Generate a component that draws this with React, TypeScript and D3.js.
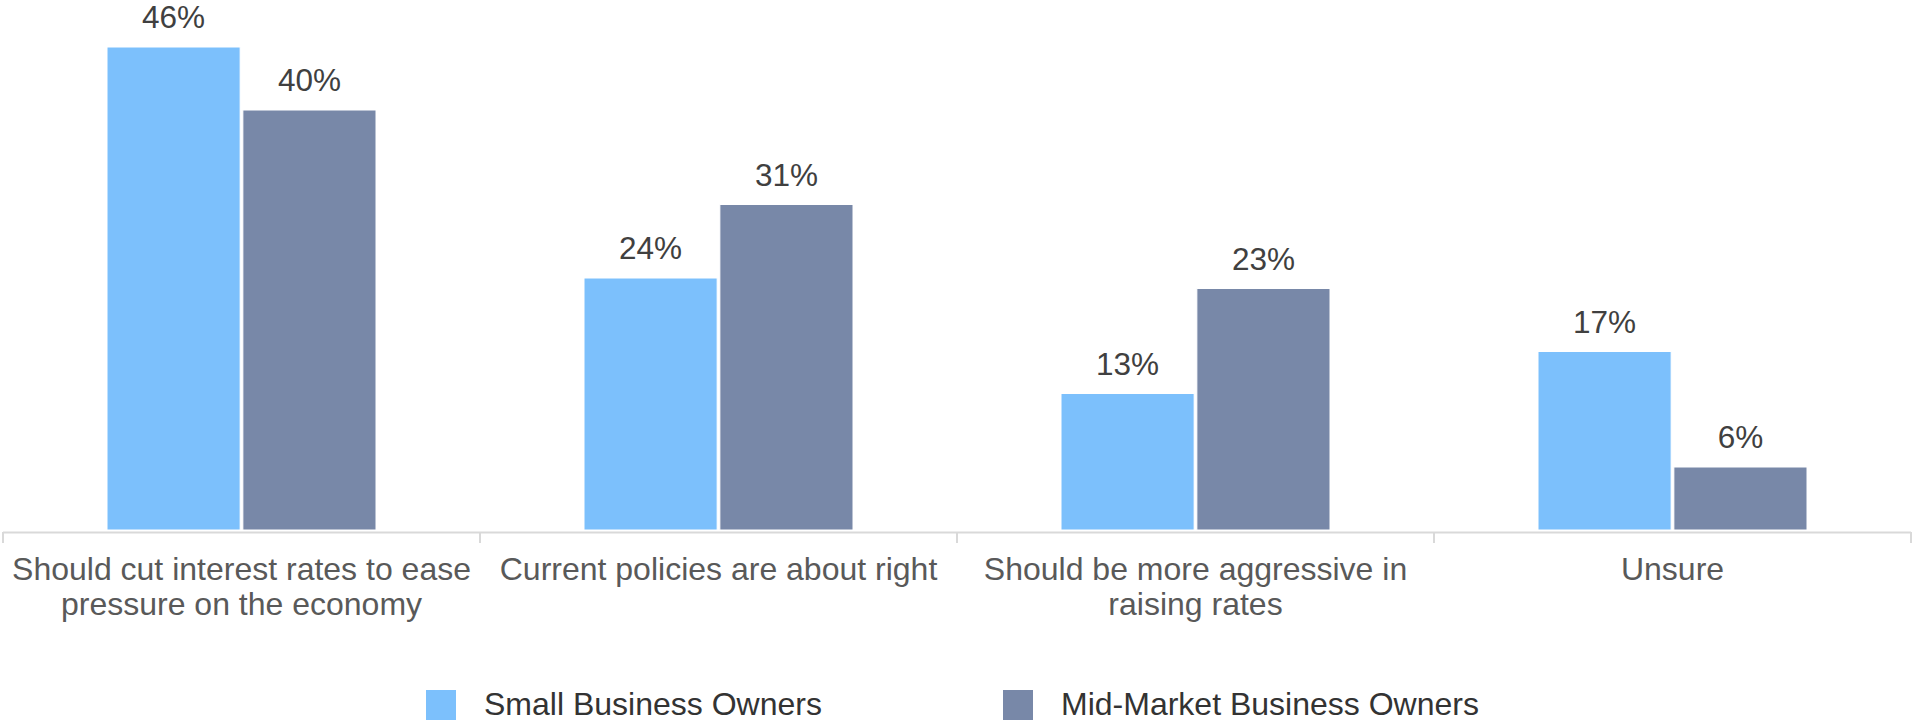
import React, { useEffect, useRef } from 'react';
import * as d3 from 'd3';

const categories = [
  'Should cut interest rates to ease pressure on the economy',
  'Current policies are about right',
  'Should be more aggressive in raising rates',
  'Unsure'
];
const seriesNames = ['Small Business Owners', 'Mid-Market Business Owners'];
const smallBusiness = [46, 24, 13, 17];
const midMarket = [40, 31, 23, 6];
const colors = ['#7CC0FC', '#7888A8'];

const W = 1913;
const H = 721;
const FONT = '"Liberation Sans", Arial, sans-serif';

const App = () => {
  const ref = useRef<SVGSVGElement>(null);

  useEffect(() => {
    const svg = d3.select(ref.current);
    svg.selectAll('*').remove();

    const x = d3.scaleBand<string>().domain(categories).range([3, 1911]).paddingInner(0).paddingOuter(0);
    const inner = d3
      .scaleBand<number>()
      .domain([0, 1])
      .range([104, x.bandwidth() - 104])
      .paddingInner(0.02);
    const y = d3.scaleLinear().domain([0, 50]).range([530, 5]);

    const series = [smallBusiness, midMarket];

    const groups = svg
      .selectAll('g.cat')
      .data(categories)
      .enter()
      .append('g')
      .attr('class', 'cat')
      .attr('transform', (d) => `translate(${x(d)},0)`);

    series.forEach((vals, si) => {
      groups
        .append('rect')
        .attr('x', inner(si)!)
        .attr('width', inner.bandwidth())
        .attr('y', (_, i) => y(vals[i]))
        .attr('height', (_, i) => y(0) - y(vals[i]))
        .attr('fill', colors[si])
        .attr('stroke', '#ffffff')
        .attr('stroke-width', 1);

      groups
        .append('text')
        .attr('x', inner(si)! + inner.bandwidth() / 2)
        .attr('y', (_, i) => y(vals[i]) - 19)
        .attr('text-anchor', 'middle')
        .attr('font-family', FONT)
        .attr('font-size', 31.5)
        .attr('fill', '#404040')
        .text((_, i) => `${vals[i]}%`);
    });

    // axis line and ticks
    svg
      .append('line')
      .attr('x1', 3)
      .attr('x2', 1911)
      .attr('y1', 532.5)
      .attr('y2', 532.5)
      .attr('stroke', '#D9D9D9')
      .attr('stroke-width', 2);
    const tickPos = categories.map((c) => x(c)!).concat([1911]);
    svg
      .selectAll('line.tick')
      .data(tickPos)
      .enter()
      .append('line')
      .attr('class', 'tick')
      .attr('x1', (d) => d)
      .attr('x2', (d) => d)
      .attr('y1', 532)
      .attr('y2', 543)
      .attr('stroke', '#D9D9D9')
      .attr('stroke-width', 2);

    // category labels, wrapped to band width
    const labels = svg
      .selectAll('text.cat-label')
      .data(categories)
      .enter()
      .append('text')
      .attr('class', 'cat-label')
      .attr('text-anchor', 'middle')
      .attr('font-family', FONT)
      .attr('font-size', 32)
      .attr('fill', '#595959');

    labels.each(function (d) {
      const t = d3.select(this);
      const cx = x(d)! + x.bandwidth() / 2;
      const words = d.split(' ');
      let line: string[] = [];
      let lineNo = 0;
      let tspan = t.append('tspan').attr('x', cx).attr('y', 580);
      words.forEach((w) => {
        line.push(w);
        tspan.text(line.join(' '));
        if ((tspan.node() as SVGTSpanElement).getComputedTextLength() > x.bandwidth() - 6 && line.length > 1) {
          line.pop();
          tspan.text(line.join(' '));
          line = [w];
          lineNo++;
          tspan = t
            .append('tspan')
            .attr('x', cx)
            .attr('y', 580 + lineNo * 35)
            .text(w);
        }
      });
    });

    // legend
    const legendX = [426, 1003];
    seriesNames.forEach((name, i) => {
      svg
        .append('rect')
        .attr('x', legendX[i])
        .attr('y', 690)
        .attr('width', 30)
        .attr('height', 30)
        .attr('fill', colors[i]);
      svg
        .append('text')
        .attr('x', legendX[i] + 58)
        .attr('y', 715)
        .attr('font-family', FONT)
        .attr('font-size', 32)
        .attr('fill', '#333333')
        .text(name);
    });
  }, []);

  return (
    <svg
      ref={ref}
      width={W}
      height={H}
      style={{ position: 'absolute', left: 0, top: 0, display: 'block', background: '#fff' }}
    ></svg>
  );
};

export default App;
